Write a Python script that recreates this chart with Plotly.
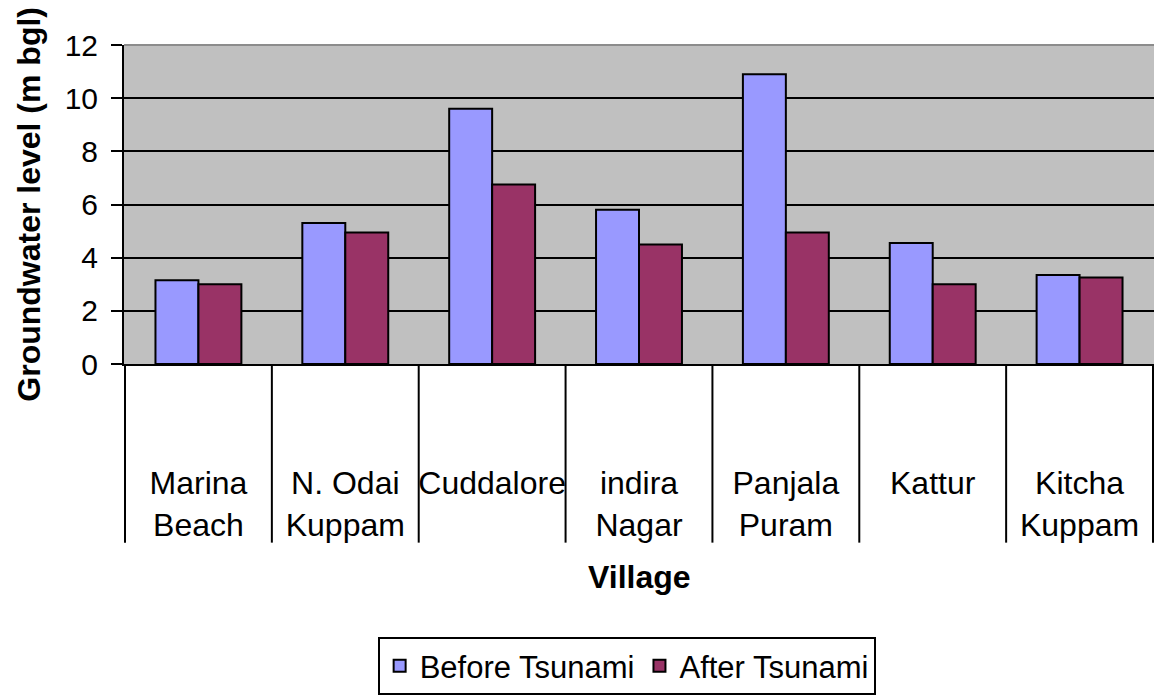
import plotly.graph_objects as go

villages = ["Marina<br>Beach", "N. Odai<br>Kuppam", "Cuddalore", "indira<br>Nagar",
            "Panjala<br>Puram", "Kattur", "Kitcha<br>Kuppam"]
before_tsunami = [3.15, 5.3, 9.6, 5.8, 10.9, 4.55, 3.35]
after_tsunami = [3.0, 4.95, 6.75, 4.5, 4.95, 3.0, 3.25]
y_ticks = [0, 2, 4, 6, 8, 10, 12]

FONT = "Liberation Sans, Arial, sans-serif"

fig = go.Figure()
fig.add_trace(go.Bar(x=villages, y=before_tsunami, name="Before Tsunami",
                     marker=dict(color="#9999FF", line=dict(color="#000000", width=2))))
fig.add_trace(go.Bar(x=villages, y=after_tsunami, name="After Tsunami",
                     marker=dict(color="#993366", line=dict(color="#000000", width=2))))

# category dividers running down through the label area
shapes = []
for i in range(len(villages) + 1):
    shapes.append(dict(type="line", xref="x", yref="paper",
                       x0=i - 0.5, x1=i - 0.5, y0=0, y1=-0.56,
                       line=dict(color="#000000", width=2)))
# grey top border of the plot area
shapes.append(dict(type="line", xref="paper", yref="paper", x0=0, x1=1, y0=1, y1=1,
                   line=dict(color="#8C8C8C", width=2), layer="above"))

fig.update_layout(
    width=1154, height=695,
    margin=dict(l=124, r=0, t=45, b=329),
    paper_bgcolor="#FFFFFF",
    plot_bgcolor="#C0C0C0",
    barmode="group",
    bargap=0.415,
    bargroupgap=0,
    font=dict(family=FONT, color="#000000"),
    shapes=shapes,
    xaxis=dict(
        showgrid=False, showline=True, linecolor="#000000", linewidth=2,
        ticks="", tickfont=dict(size=32, family=FONT),
        ticklabelstandoff=90, fixedrange=True,
    ),
    yaxis=dict(
        range=[0, 12], tickvals=y_ticks, showgrid=True, gridcolor="#000000", gridwidth=2,
        showline=True, linecolor="#000000", linewidth=2,
        ticks="outside", ticklen=11, tickwidth=2, tickcolor="#000000",
        tickfont=dict(size=30, family=FONT), ticklabelstandoff=7,
        zeroline=False, fixedrange=True,
    ),
    legend=dict(
        orientation="h", x=0.488, xanchor="center", y=-0.857, yanchor="top",
        bordercolor="#000000", borderwidth=2, bgcolor="#FFFFFF",
        font=dict(size=31, family=FONT), itemwidth=30,
    ),
    annotations=[
        dict(text="<b>Groundwater level (m bgl)</b>", xref="paper", yref="paper",
             x=-0.093, y=0.5, xanchor="center", yanchor="middle", textangle=-90,
             showarrow=False, font=dict(size=32, family=FONT)),
        dict(text="<b>Village</b>", xref="paper", yref="paper",
             x=0.5, y=-0.667, xanchor="center", yanchor="middle",
             showarrow=False, font=dict(size=32, family=FONT)),
    ],
)

fig.write_html("out.html")
